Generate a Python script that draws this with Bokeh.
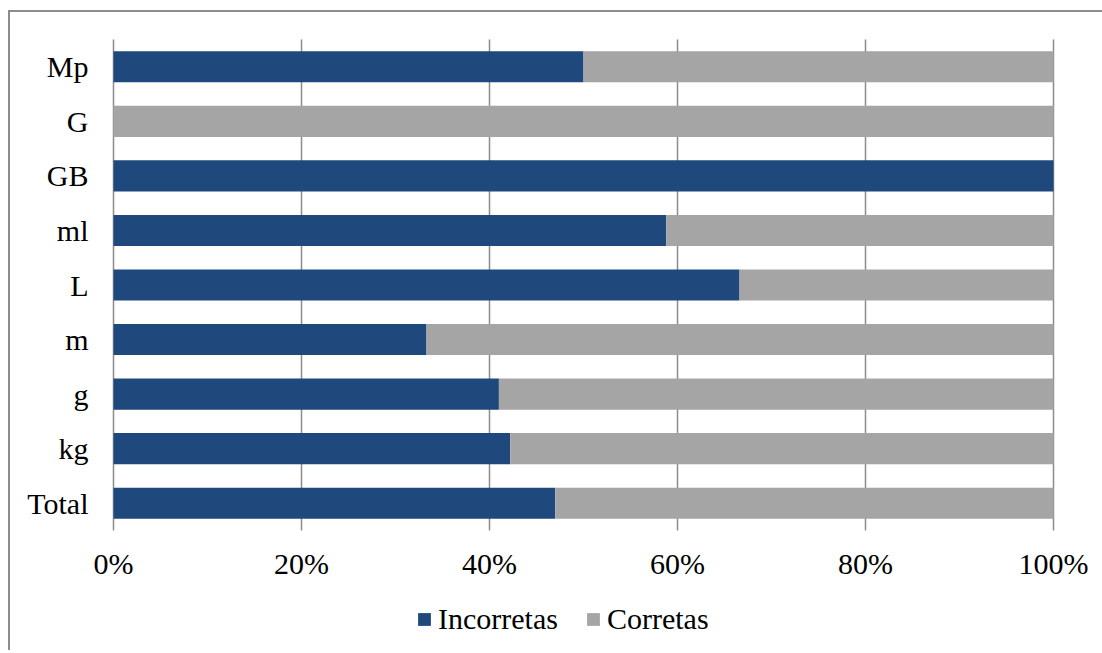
from bokeh.plotting import figure
from bokeh.models import ColumnDataSource, Legend, LegendItem, Range1d
from bokeh.core.properties import value
from bokeh.embed import file_html
from bokeh.resources import INLINE

categories = ["Total", "kg", "g", "m", "L", "ml", "GB", "G", "Mp"]
incorretas = [0.47, 0.422, 0.41, 0.333, 0.666, 0.588, 1.0, 0.0, 0.50]
corretas = [1 - v for v in incorretas]
x_ticks = [0, 0.2, 0.4, 0.6, 0.8, 1.0]
x_tick_labels = ["0%", "20%", "40%", "60%", "80%", "100%"]

BLUE = "#1f497d"
GRAY = "#a5a5a5"
GRID = "#8c8c8c"
FONT = "Liberation Serif"
FS = "30px"

n = len(categories)
ypos = [i + 0.5 for i in range(n)]
src = ColumnDataSource(dict(y=ypos, cat=categories, inc=incorretas, cor=corretas))
tick_src = ColumnDataSource(dict(x=x_ticks, lab=x_tick_labels,
                                 y0=[0] * len(x_ticks), y1=[n] * len(x_ticks)))

W, H = 1094, 640
X_PX = 940.0          # pixels per 100%
LEFT_PX = 103.0      # frame px of 0%
Y_PX = 491.0 / n     # pixels per category
TOP_PX = 27.0        # frame px of top of category area
x_start = -LEFT_PX / X_PX
y_end = n + TOP_PX / Y_PX

p = figure(x_range=Range1d(x_start, x_start + W / X_PX),
           y_range=Range1d(y_end - H / Y_PX, y_end),
           width=W, height=H, output_backend="svg", toolbar_location=None,
           x_axis_location=None, y_axis_location=None, min_border=0)
p.styles = {"border-top": "2px solid #8c8c8c", "border-left": "2px solid #8c8c8c",
            "margin-left": "8px", "margin-top": "10px"}
p.outline_line_color = None
p.grid.grid_line_color = None

# vertical gridlines (0% line acts as the category axis line)
p.segment(x0="x", y0="y0", x1="x", y1="y1", source=tick_src, line_color=GRID, line_width=1.5)

r = p.hbar_stack(["inc", "cor"], y="y", height=0.57, color=[BLUE, GRAY], source=src, line_color=None)

# tick labels
p.text(x="x", y="y0", text="lab", source=tick_src, text_font=value(FONT), text_font_size=FS,
       text_color="black", text_align="center", text_baseline="top", y_offset=16)
p.text(x=0, y="y", text="cat", source=src, text_font=value(FONT), text_font_size=FS,
       text_color="black", text_align="right", text_baseline="middle", x_offset=-25)

legend = Legend(items=[LegendItem(label="Incorretas", renderers=[r[0]]),
                       LegendItem(label="Corretas", renderers=[r[1]])],
                orientation="horizontal", location=(406, 16),
                label_text_font=FONT, label_text_font_size=FS, label_text_color="black",
                glyph_width=16, glyph_height=16, spacing=27, label_standoff=6,
                border_line_color=None, background_fill_alpha=0, margin=0, padding=4)
p.add_layout(legend, "center")

open("out.html", "w").write(file_html(p, INLINE))
